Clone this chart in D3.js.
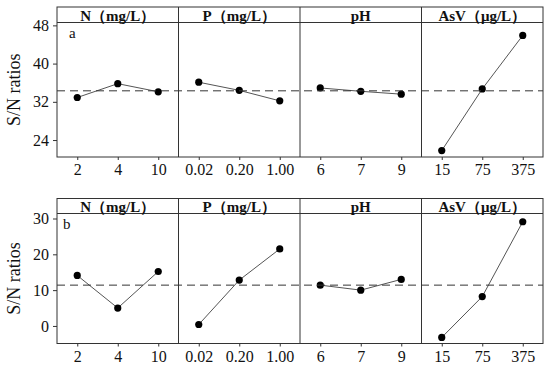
<!DOCTYPE html>
<html>
<head>
<meta charset="utf-8">
<script src="https://cdn.jsdelivr.net/npm/d3@7.9.0/dist/d3.min.js"></script>
<style>
  body { margin: 0; background: #fff; }
  svg { display: block; }
  svg text { font-family: 'Liberation Serif', 'Times New Roman', Times, serif; }
</style>
</head>
<body>
<svg width="550" height="367"></svg>
<script>
// factor names and level labels
const factors = ['N（mg/L）', 'P（mg/L）', 'pH', 'AsV（μg/L）'];
const levels = [
  ['2', '4', '10'],
  ['0.02', '0.20', '1.00'],
  ['6', '7', '9'],
  ['15', '75', '375']
];

// S/N ratios, panel a
const snA = [
  [32.9, 35.8, 34.1],
  [36.1, 34.4, 32.2],
  [34.9, 34.2, 33.6],
  [21.8, 34.7, 45.9]
];
const meanA = 34.3;
const ticksA = [24, 32, 40, 48];

// S/N ratios, panel b
const snB = [
  [14.1, 5.0, 15.2],
  [0.4, 12.8, 21.5],
  [11.4, 10.0, 13.0],
  [-3.2, 8.2, 29.1]
];
const meanB = 11.4;
const ticksB = [0, 10, 20, 30];

const svg = d3.select('svg');
const left = 57, right = 543;
const panelW = (right - left) / factors.length;

function drawChart(top, bottom, headerH, domain, ticks, data, mean, letter, letterX) {
  const plotTop = top + headerH;
  const g = svg.append('g');
  let y = d3.scaleLinear().domain(domain).range([bottom, plotTop]);

  // header band + frame
  g.append('rect')
    .attr('x', left).attr('y', top)
    .attr('width', right - left).attr('height', bottom - top)
    .attr('fill', 'none').attr('stroke', '#333').attr('stroke-width', 1);
  g.append('line')
    .attr('x1', left).attr('x2', right)
    .attr('y1', plotTop).attr('y2', plotTop)
    .attr('stroke', '#333');

  factors.forEach((f, i) => {
    let x0 = left + i * panelW;
    if (i > 0) {
      g.append('line')
        .attr('x1', x0).attr('x2', x0)
        .attr('y1', top).attr('y2', bottom)
        .attr('stroke', '#333');
    }
    g.append('text')
      .attr('x', x0 + panelW / 2).attr('y', plotTop - 2)
      .attr('text-anchor', 'middle')
      .attr('font-size', 15).attr('font-weight', 'bold')
      .attr('fill', '#111')
      .text(f);

    let x = d3.scalePoint().domain(levels[i]).range([x0, x0 + panelW]).padding(0.5);
    let xAxis = g.append('g')
      .attr('transform', `translate(0,${bottom})`)
      .call(d3.axisBottom(x).tickSize(3).tickPadding(4));
    xAxis.select('.domain').remove();
    xAxis.selectAll('line').attr('stroke', '#333');
    xAxis.selectAll('text')
      .attr('font-size', 16).attr('fill', '#111');

    let line = d3.line().x((d, j) => x(levels[i][j])).y(d => y(d));
    g.append('path')
      .datum(data[i])
      .attr('d', line)
      .attr('fill', 'none').attr('stroke', '#555').attr('stroke-width', 1);
    g.selectAll(null)
      .data(data[i])
      .enter().append('circle')
      .attr('cx', (d, j) => x(levels[i][j]))
      .attr('cy', d => y(d))
      .attr('r', 3.6)
      .attr('fill', '#000');
  });

  // mean dashed line
  g.append('line')
    .attr('x1', left).attr('x2', right)
    .attr('y1', y(mean)).attr('y2', y(mean))
    .attr('stroke', '#333').attr('stroke-dasharray', '8,5');

  let yAxis = g.append('g')
    .attr('transform', `translate(${left},0)`)
    .call(d3.axisLeft(y).tickValues(ticks).tickSize(4).tickPadding(4));
  yAxis.select('.domain').remove();
  yAxis.selectAll('line').attr('stroke', '#333');
  yAxis.selectAll('text')
    .attr('font-size', 16).attr('fill', '#111');

  g.append('text')
    .attr('transform', `translate(20,${(plotTop + bottom) / 2}) rotate(-90)`)
    .attr('text-anchor', 'middle')
    .attr('font-size', 18).attr('fill', '#111')
    .text('S/N ratios');

  g.append('text')
    .attr('x', letterX).attr('y', plotTop + 15)
    .attr('font-size', 15).attr('fill', '#111')
    .text(letter);
}

drawChart(7, 157, 15.5, [20.45, 48.6], ticksA, snA, meanA, 'a', 69);
drawChart(198.5, 343.5, 15, [-4.9, 31.4], ticksB, snB, meanB, 'b', 63);
</script>
</body>
</html>
